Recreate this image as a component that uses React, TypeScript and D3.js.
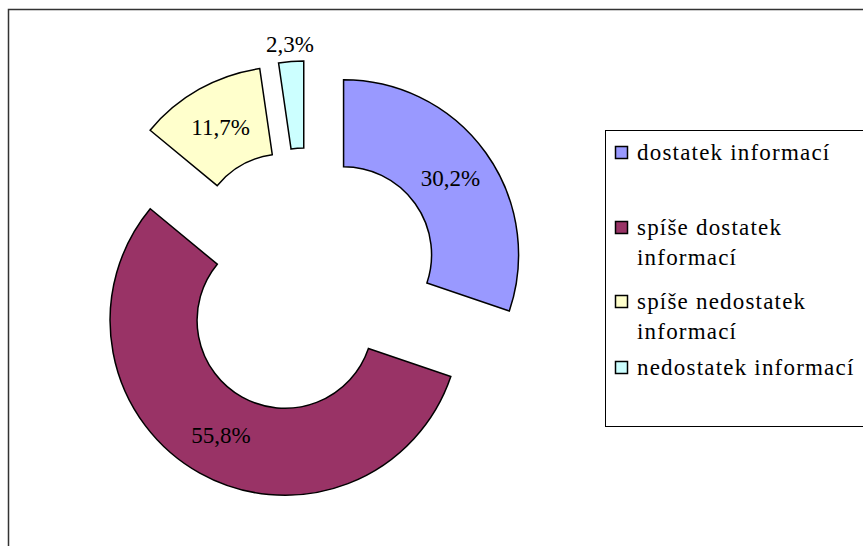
import * as d3 from "d3";

// survey answers, share in %
const categories = [
  "dostatek informací",
  "spíše dostatek informací",
  "spíše nedostatek informací",
  "nedostatek informací",
];
const values = [30.2, 55.8, 11.7, 2.3];
const valueLabels = ["30,2%", "55,8%", "11,7%", "2,3%"];
const legendLines = [
  ["dostatek informací"],
  ["spíše dostatek", "informací"],
  ["spíše nedostatek", "informací"],
  ["nedostatek informací"],
];
const colors = ["#9999FF", "#993366", "#FFFFCC", "#CCFFFF"];

const width = 863;
const height = 546;
const cx = 307;
const cy = 281;
const outerR = 175;
const innerR = 88;
const explode = 45;
const font = '"Liberation Serif", "DejaVu Serif", "Times New Roman", serif';

// legend layout (baselines of each entry's first line)
const legendX = 605.5;
const legendY = 130.5;
const legendH = 296;
const legendRowY = [160, 235, 309, 375];
const lineH = 30;

export default function App() {
  const pie = d3
    .pie<number>()
    .sort(null)
    .value((d) => d);
  const arcs = pie(values);
  const arc = d3.arc<d3.PieArcDatum<number>>().innerRadius(innerR).outerRadius(outerR);
  // small slices get their label outside the ring
  const outsideArc = d3
    .arc<d3.PieArcDatum<number>>()
    .innerRadius(outerR + 17)
    .outerRadius(outerR + 17);

  return (
    <svg
      width={width}
      height={height}
      style={{
        position: "absolute",
        left: 0,
        top: 0,
        display: "block",
        background: "#fff",
        fontFamily: font,
      }}
    >
      <path d={`M8.5,${height}V9.5H${width}`} fill="none" stroke="#333" strokeWidth={1.5} />

      <g transform={`translate(${cx},${cy})`}>
        {arcs.map((a, i) => {
          const mid = (a.startAngle + a.endAngle) / 2;
          const dx = Math.sin(mid) * explode;
          const dy = -Math.cos(mid) * explode;
          const small = a.value < 5;
          const [lx, ly] = small ? outsideArc.centroid(a) : arc.centroid(a);
          return (
            <g key={categories[i]} transform={`translate(${dx},${dy})`}>
              <path d={arc(a) || undefined} fill={colors[i]} stroke="#000" strokeWidth={1.5} />
              <text
                x={lx}
                y={ly}
                dy="0.33em"
                textAnchor="middle"
                fontSize={23}
                fill="#000"
              >
                {valueLabels[i]}
              </text>
            </g>
          );
        })}
      </g>

      <rect
        x={legendX}
        y={legendY}
        width={320}
        height={legendH}
        fill="#fff"
        stroke="#000"
        strokeWidth={1}
      />
      {categories.map((c, i) => (
        <g key={c}>
          <rect
            x={615.5}
            y={legendRowY[i] - 13.5}
            width={12}
            height={12}
            fill={colors[i]}
            stroke="#000"
            strokeWidth={1.5}
          />
          <text fontSize={23} fill="#000" letterSpacing={1.2}>
            {legendLines[i].map((line, j) => (
              <tspan key={j} x={637} y={legendRowY[i] + j * lineH}>
                {line}
              </tspan>
            ))}
          </text>
        </g>
      ))}
    </svg>
  );
}
